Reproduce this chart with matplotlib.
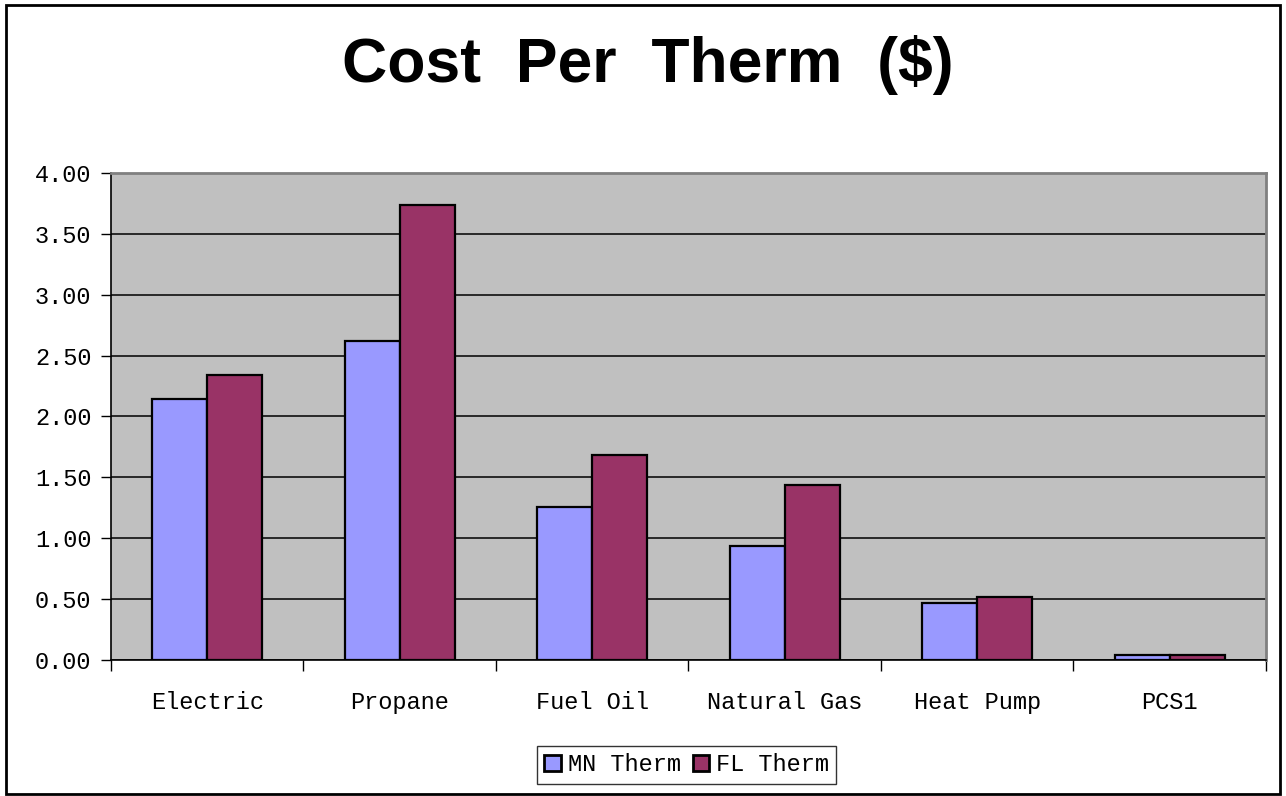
import matplotlib
matplotlib.use("Agg")
import matplotlib.pyplot as plt
import numpy as np
from matplotlib.patches import Rectangle

categories = ["Electric", "Propane", "Fuel Oil", "Natural Gas", "Heat Pump", "PCS1"]
mn_therm = [2.14, 2.62, 1.26, 0.94, 0.47, 0.04]
fl_therm = [2.34, 3.74, 1.68, 1.44, 0.52, 0.04]
y_ticks = [0.0, 0.5, 1.0, 1.5, 2.0, 2.5, 3.0, 3.5, 4.0]
title = "Cost  Per  Therm  ($)"

mono = "Liberation Mono"
fs = 17
fig = plt.figure(figsize=(12.86, 7.96), dpi=100)
fig.patch.set_facecolor("white")

# outer chart frame
fig.patches.append(Rectangle((0.005, 0.003), 0.99, 0.991, transform=fig.transFigure,
                             fill=False, edgecolor="black", linewidth=2.0))

ax = fig.add_axes([0.0863, 0.1709, 0.8981, 0.6118])
ax.set_facecolor("#C0C0C0")

x = np.arange(len(categories))
w = 1 / 3.5
ax.bar(x - w / 2, mn_therm, width=w, color="#9999FF", edgecolor="black",
       linewidth=1.6, label="MN Therm", zorder=3)
ax.bar(x + w / 2, fl_therm, width=w, color="#993366", edgecolor="black",
       linewidth=1.6, label="FL Therm", zorder=3)

ax.set_xlim(-0.5, len(categories) - 0.5)
ax.set_ylim(0, 4.0)
ax.set_yticks(y_ticks)
ax.set_yticklabels([f"{v:.2f}" for v in y_ticks], fontfamily=mono, fontsize=fs)
ax.yaxis.grid(True, color="black", linewidth=1.1, zorder=1)
ax.set_axisbelow(True)

# category boundaries carry the ticks, centers carry the labels
ax.set_xticks(np.arange(len(categories) + 1) - 0.5)
ax.set_xticklabels([])
ax.set_xticks(x, minor=True)
ax.set_xticklabels(categories, minor=True, fontfamily=mono, fontsize=fs)
ax.tick_params(axis="x", which="major", length=8, width=1.0, direction="out", color="black")
ax.tick_params(axis="x", which="minor", length=0, pad=22)
ax.tick_params(axis="y", length=7, width=1.0, direction="out", pad=7)

for side in ("top", "right"):
    ax.spines[side].set_color("#808080")
    ax.spines[side].set_linewidth(2.0)
ax.spines["left"].set_color("black")
ax.spines["bottom"].set_color("black")
ax.spines["left"].set_linewidth(1.2)
ax.spines["bottom"].set_linewidth(1.2)

fig.text(0.504, 0.918, title, ha="center", va="center", fontsize=45,
         fontweight="bold", fontfamily="Liberation Sans")

leg = fig.legend(loc="center", bbox_to_anchor=(0.534, 0.039), ncol=2,
                 prop={"family": mono, "size": fs}, frameon=True, fancybox=False,
                 edgecolor="black", handlelength=0.7, handleheight=0.7,
                 handletextpad=0.3, columnspacing=0.5, borderpad=0.3,
                 borderaxespad=0)
leg.get_frame().set_linewidth(1.0)
for h in leg.legend_handles:
    h.set_linewidth(2.0)

fig.savefig("out.png", dpi=100, facecolor="white")
